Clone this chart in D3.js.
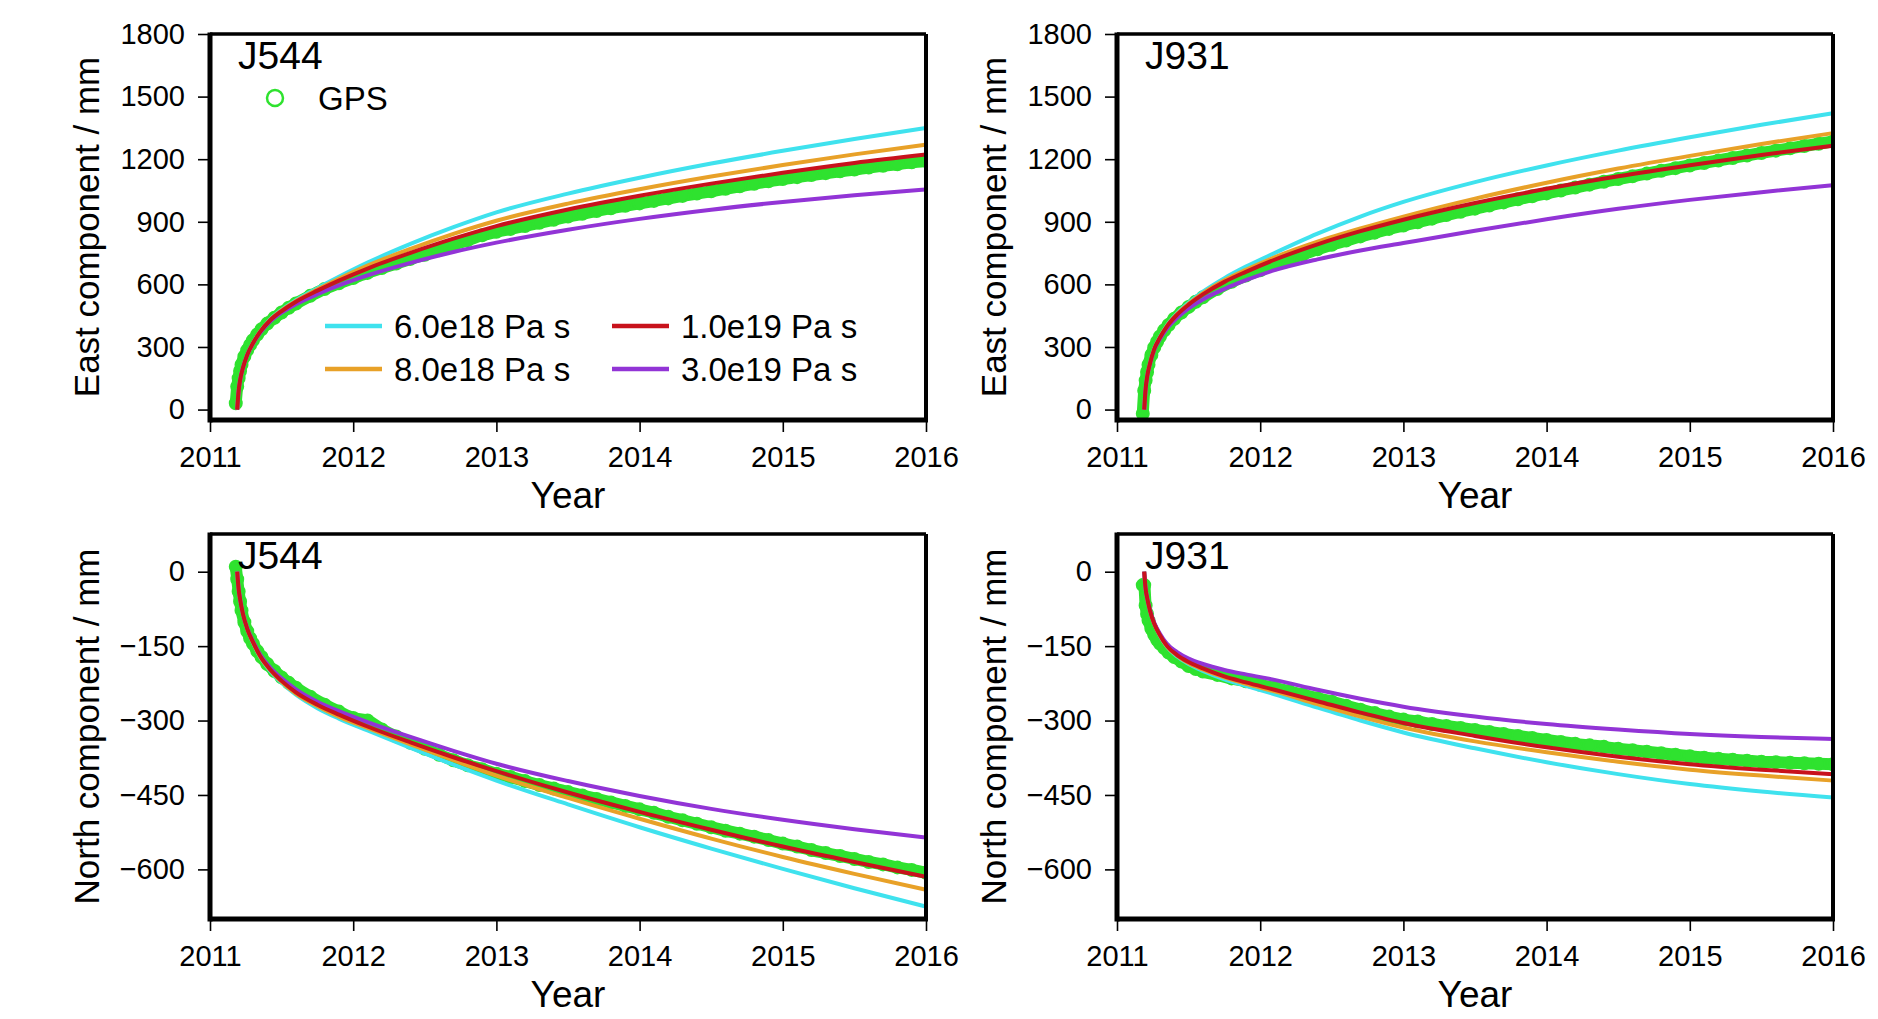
<!DOCTYPE html>
<html><head><meta charset="utf-8">
<script src="https://cdn.jsdelivr.net/npm/d3@7"></script>
<style>
body{margin:0;background:#fff}
svg{display:block}
text{font-family:"Liberation Sans",Arial,Helvetica,sans-serif;fill:#000}
</style>
</head><body>
<svg id="c" width="1878" height="1019"></svg>
<script>
// ---------- tick labels ----------
const yearTicks = [2011, 2012, 2013, 2014, 2015, 2016];
const eastTicks = [0, 300, 600, 900, 1200, 1500, 1800];
const northTicks = [0, -150, -300, -450, -600];
const eastDomain = [-50, 1800];
const northDomain = [-700, 76];

// ---------- model series ----------
const modelNames = ["6.0e18 Pa s", "8.0e18 Pa s", "1.0e19 Pa s", "3.0e19 Pa s"];
const modelColors = ["#3fe2ee", "#e8a128", "#c8121c", "#9234d6"];
const modelYears = [2011.19, 2011.20, 2011.21, 2011.23, 2011.26, 2011.30, 2011.35, 2011.42, 2011.50, 2011.60, 2011.75, 2011.90, 2012.10, 2012.40, 2012.70, 2013.00, 2013.50, 2014.00, 2014.50, 2015.00, 2015.50, 2016.00];

const j544E_6e18 = [0, 90, 140, 200, 262, 318, 374, 432, 478, 524, 582, 636, 704, 794, 874, 945, 1035, 1111, 1179, 1240, 1297, 1350];
const j544E_8e18 = [0, 90, 140, 200, 262, 318, 373, 430, 475, 520, 576, 627, 690, 770, 842, 905, 987, 1056, 1117, 1172, 1223, 1270];
const j544E_1e19 = [0, 90, 140, 200, 262, 318, 372, 428, 472, 517, 570, 618, 676, 751, 819, 879, 959, 1025, 1083, 1135, 1182, 1222];
const j544E_3e19 = [0, 90, 140, 200, 262, 316, 368, 422, 465, 505, 553, 595, 643, 703, 755, 800, 862, 914, 958, 995, 1027, 1055];

const j931E_6e18 = [0, 100, 155, 220, 292, 348, 405, 462, 512, 565, 630, 685, 750, 843, 925, 995, 1090, 1170, 1241, 1305, 1365, 1420];
const j931E_8e18 = [0, 100, 155, 220, 291, 346, 402, 458, 507, 558, 620, 670, 730, 805, 868, 925, 1011, 1087, 1155, 1216, 1273, 1325];
const j931E_1e19 = [0, 100, 155, 220, 290, 345, 400, 455, 503, 552, 612, 660, 718, 792, 855, 910, 990, 1058, 1118, 1171, 1220, 1265];
const j931E_3e19 = [0, 100, 155, 218, 286, 338, 390, 440, 485, 528, 578, 620, 668, 720, 762, 798, 857, 912, 962, 1005, 1042, 1075];

const j544N_6e18 = [0, -35, -55, -85, -115, -143, -172, -200, -224, -248, -275, -296, -320, -355, -389, -421, -469, -515, -558, -599, -638, -675];
const j544N_8e18 = [0, -35, -55, -85, -115, -142, -171, -198, -222, -246, -271, -292, -315, -348, -380, -411, -456, -498, -538, -575, -609, -641];
const j544N_1e19 = [0, -35, -55, -85, -115, -142, -170, -197, -220, -243, -268, -288, -312, -344, -374, -402, -445, -484, -520, -554, -585, -615];
const j544N_3e19 = [0, -35, -55, -85, -114, -140, -167, -193, -215, -237, -262, -281, -303, -333, -361, -387, -422, -452, -478, -500, -519, -536];

const j931N_6e18 = [0, -35, -52, -78, -105, -129, -152, -171, -186, -200, -217, -230, -247, -274, -300, -324, -356, -384, -408, -428, -443, -455];
const j931N_8e18 = [0, -35, -52, -78, -105, -128, -151, -169, -184, -197, -213, -226, -241, -267, -292, -314, -342, -364, -383, -399, -411, -421];
const j931N_1e19 = [0, -35, -52, -78, -105, -128, -150, -168, -182, -195, -211, -223, -238, -261, -284, -305, -331, -354, -373, -388, -399, -408];
const j931N_3e19 = [0, -35, -52, -77, -103, -125, -146, -162, -175, -186, -198, -207, -218, -238, -256, -272, -292, -307, -318, -327, -333, -337];

// ---------- GPS series ----------
const gpsYears = [2011.18, 2011.19, 2011.20, 2011.21, 2011.22, 2011.24, 2011.26, 2011.28, 2011.30, 2011.33, 2011.36, 2011.40, 2011.45, 2011.50, 2011.55, 2011.60,
  2011.7, 2011.8, 2011.9, 2012.0, 2012.1, 2012.2, 2012.3, 2012.4, 2012.5, 2012.6, 2012.7, 2012.8, 2012.9,
  2013.0, 2013.1, 2013.2, 2013.3, 2013.4, 2013.5, 2013.6, 2013.7, 2013.8, 2013.9,
  2014.0, 2014.1, 2014.2, 2014.3, 2014.4, 2014.5, 2014.6, 2014.7, 2014.8, 2014.9,
  2015.0, 2015.1, 2015.2, 2015.3, 2015.4, 2015.5, 2015.6, 2015.7, 2015.8, 2015.9, 2016.0];

const gpsJ544E = [30, 110, 150, 185, 215, 255, 285, 310, 332, 360, 385, 412, 440, 465, 488, 508,
  545, 578, 605, 630, 655, 678, 700, 722, 742, 764, 790, 812, 835,
  852, 866, 880, 895, 910, 925, 938, 952, 965, 977,
  988, 1000, 1012, 1024, 1035, 1046, 1058, 1070, 1082, 1094,
  1105, 1114, 1124, 1133, 1142, 1150, 1160, 1168, 1176, 1185, 1192];

const gpsJ931E = [-20, 90, 140, 180, 215, 262, 298, 325, 350, 380, 405, 435, 465, 492, 517, 538,
  578, 612, 642, 668, 695, 720, 744, 768, 790, 810, 830, 848, 866,
  882, 898, 915, 932, 948, 963, 978, 993, 1008, 1022,
  1036, 1050, 1064, 1078, 1092, 1105, 1118, 1131, 1144, 1157,
  1170, 1182, 1194, 1206, 1218, 1230, 1241, 1252, 1263, 1274, 1285];

const gpsJ544N = [10, -15, -40, -60, -78, -102, -120, -134, -145, -160, -172, -186, -200, -213, -224, -234,
  -252, -268, -282, -295, -300, -318, -332, -345, -357, -369, -380, -390, -398,
  -407, -414, -422, -430, -437, -444, -451, -458, -465, -472,
  -479, -486, -494, -501, -508, -515, -522, -528, -534, -541,
  -548, -554, -561, -567, -573, -579, -585, -590, -596, -601, -607];

const gpsJ931N = [-27, -27, -68, -85, -98, -115, -127, -137, -145, -154, -163, -172, -181, -190, -196, -201,
  -208, -215, -221, -228, -234, -241, -248, -255, -262, -270, -278, -285, -292,
  -298, -302, -307, -311, -315, -319, -323, -327, -331, -335,
  -339, -343, -347, -350, -353, -357, -360, -363, -366, -369,
  -372, -375, -377, -379, -381, -383, -384, -385, -386, -387, -388];

// ---------- panels ----------
const panels = [
  {station: "J544", comp: "East", left: 210, top: 34, bottom: 420, domain: eastDomain, ticks: eastTicks,
   gps: gpsJ544E, models: [j544E_6e18, j544E_8e18, j544E_1e19, j544E_3e19], legend: true},
  {station: "J931", comp: "East", left: 1117, top: 34, bottom: 420, domain: eastDomain, ticks: eastTicks,
   gps: gpsJ931E, models: [j931E_6e18, j931E_8e18, j931E_1e19, j931E_3e19], legend: false},
  {station: "J544", comp: "North", left: 210, top: 534, bottom: 919, domain: northDomain, ticks: northTicks,
   gps: gpsJ544N, models: [j544N_6e18, j544N_8e18, j544N_1e19, j544N_3e19], legend: false},
  {station: "J931", comp: "North", left: 1117, top: 534, bottom: 919, domain: northDomain, ticks: northTicks,
   gps: gpsJ931N, models: [j931N_6e18, j931N_8e18, j931N_1e19, j931N_3e19], legend: false}
];
const panelWidth = 716;
const gpsColor = "#2fe22f";

const svg = d3.select("#c");
svg.append("rect").attr("width", 1878).attr("height", 1019).attr("fill", "#fff");

panels.forEach(p => {
  const x = d3.scaleLinear().domain([2011, 2016]).range([p.left, p.left + panelWidth]);
  const y = d3.scaleLinear().domain(p.domain).range([p.bottom, p.top]);
  const g = svg.append("g");

  const clipId = "clip" + p.station + p.comp;
  svg.append("clipPath").attr("id", clipId).append("rect")
    .attr("x", p.left).attr("y", p.top).attr("width", panelWidth).attr("height", p.bottom - p.top);
  const plot = g.append("g").attr("clip-path", `url(#${clipId})`);

  // GPS band
  const gpsPts = gpsYears.map((t, i) => [t, p.gps[i]]);
  plot.append("path").datum(gpsPts)
    .attr("d", d3.line().x(d => x(d[0])).y(d => y(d[1])).curve(d3.curveMonotoneX))
    .attr("fill", "none").attr("stroke", gpsColor).attr("stroke-width", 12)
    .attr("stroke-linecap", "round").attr("stroke-linejoin", "round");
  plot.selectAll("circle.gps").data(gpsPts).enter().append("circle")
    .attr("class", "gps")
    .attr("cx", d => x(d[0])).attr("cy", d => y(d[1])).attr("r", 6)
    .attr("fill", "none").attr("stroke", gpsColor).attr("stroke-width", 2);

  // models (cyan, orange, purple, red on top)
  const order = [0, 1, 3, 2];
  const line = d3.line().x(d => x(d[0])).y(d => y(d[1])).curve(d3.curveMonotoneX);
  order.forEach(k => {
    const pts = modelYears.map((t, i) => [t, p.models[k][i]]);
    plot.append("path").datum(pts).attr("d", line)
      .attr("fill", "none").attr("stroke", modelColors[k]).attr("stroke-width", 4);
  });

  // axes
  const ax = g.append("g").attr("transform", `translate(0,${p.bottom})`)
    .call(d3.axisBottom(x).tickValues(yearTicks).tickFormat(d3.format("d")).tickSize(12).tickPadding(14));
  const ay = g.append("g").attr("transform", `translate(${p.left},0)`)
    .call(d3.axisLeft(y).tickValues(p.ticks).tickFormat(d3.format("d")).tickSize(12).tickPadding(13));
  [ax, ay].forEach(a => {
    a.select(".domain").remove();
    a.selectAll(".tick line").attr("stroke", "#000").attr("stroke-width", 1.6);
    a.selectAll(".tick text").style("font-size", "29px").style("font-family", "'Liberation Sans', Arial, sans-serif").attr("fill", "#000");
  });

  // frame
  const fr = g.append("g").attr("stroke", "#000").attr("fill", "none");
  fr.append("line").attr("x1", p.left).attr("x2", p.left + panelWidth).attr("y1", p.top).attr("y2", p.top).attr("stroke-width", 3.5);
  fr.append("line").attr("x1", p.left + panelWidth).attr("x2", p.left + panelWidth).attr("y1", p.top).attr("y2", p.bottom).attr("stroke-width", 4);
  fr.append("line").attr("x1", p.left).attr("x2", p.left).attr("y1", p.top - 1.5).attr("y2", p.bottom + 2.5).attr("stroke-width", 5);
  fr.append("line").attr("x1", p.left).attr("x2", p.left + panelWidth + 2).attr("y1", p.bottom).attr("y2", p.bottom).attr("stroke-width", 5);

  // titles
  const cx = p.left + panelWidth / 2;
  g.append("text").attr("x", cx).attr("y", p.bottom + 88).attr("text-anchor", "middle")
    .style("font-size", "37px").text("Year");
  const cy = (p.top + p.bottom) / 2;
  g.append("text").attr("transform", `translate(${p.left - 124},${cy}) rotate(-90)`)
    .attr("text-anchor", "middle").attr("dy", "0.36em")
    .style("font-size", "35px").text(p.comp + " component / mm");

  // station label
  g.append("text").attr("x", p.left + 28).attr("y", p.top + 35)
    .style("font-size", "39px").text(p.station);

  if (p.legend) {
    // GPS legend
    g.append("circle").attr("cx", p.left + 65).attr("cy", 98).attr("r", 8)
      .attr("fill", "none").attr("stroke", gpsColor).attr("stroke-width", 2.5);
    g.append("text").attr("x", p.left + 108).attr("y", 110).style("font-size", "33px").text("GPS");
    // model legend
    const pos = [[0, 0], [0, 1], [1, 0], [1, 1]];
    const colX = [p.left + 115, p.left + 402];
    const rowY = [326, 369];
    modelNames.forEach((name, k) => {
      const lx = colX[pos[k][0]], ly = rowY[pos[k][1]];
      g.append("line").attr("x1", lx).attr("x2", lx + 57).attr("y1", ly).attr("y2", ly)
        .attr("stroke", modelColors[k]).attr("stroke-width", 4.5);
      g.append("text").attr("x", lx + 69).attr("y", ly + 11.5).style("font-size", "33px").text(name);
    });
  }
});
</script>
</body></html>
